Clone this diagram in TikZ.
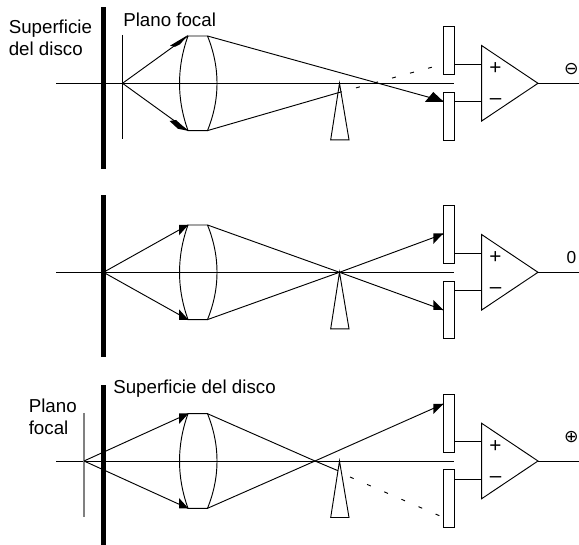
\documentclass[tikz,border=0pt]{standalone}
\usepackage{fontspec}
\setmainfont{Liberation Sans}
\newfontfamily\symfont{DejaVu Sans}
\usetikzlibrary{calc}
\tikzset{
  x=0.75pt, y=-0.75pt,
  ln/.style={line width=0.7pt, black, line join=miter},
  disc/.style={fill=black, draw=none},
  det/.style={draw, line width=0.7pt, rectangle, inner sep=0pt, minimum width=7.9pt},
  lbl/.style={inner sep=0pt, font=\fontsize{14.05pt}{16.5pt}\selectfont, align=left},
  sgn/.style={inner sep=0pt, font=\fontsize{13pt}{15pt}\selectfont},
  opsgn/.style={inner sep=0pt, font=\fontsize{15.5pt}{17pt}\selectfont},
  symsgn/.style={inner sep=0pt, font=\symfont\fontsize{13pt}{15pt}\selectfont},
  head/.style={fill=black, draw=none},
  raydash/.style={ln, dash pattern=on 3pt off 11pt}
}
% #1 prefix, #2 axis y, #3 detector length, #4 output label, #5 extras
\newcommand{\opticalpanel}[5]{%
\begin{scope}[shift={(0,#2)}, name prefix=#1-, ln]
  \coordinate (lensTL) at (188,-47.3);
  \coordinate (lensTR) at (207.5,-47.3);
  \coordinate (lensBL) at (188,47.3);
  \coordinate (lensBR) at (207.5,47.3);
  \coordinate (apex) at (339.5,0);
  \coordinate (baseL) at (330.7,56.5);
  \coordinate (baseR) at (349,56.5);
  \coordinate (ampT) at (481.7,-37.7);
  \coordinate (ampB) at (481.7,37.7);
  \coordinate (ampO) at (538,0);
  \coordinate (ampP) at (481.7,-19.3);
  \coordinate (ampM) at (481.7,18.3);
  \coordinate (axisL) at (56,0);
  \coordinate (axisR) at (453.5,0);
  \coordinate (outE) at (579,0);
  \node[det, minimum height=#3*0.75pt] (up) at (448.7,{-8.9-#3/2}) {};
  \node[det, minimum height=#3*0.75pt] (down) at (448.7,{8.9+#3/2}) {};
  \draw (axisL) -- (axisR);
  \draw (lensTL) -- (lensTR) .. controls (220.2,-15.8) and (220.2,15.8) .. (lensBR) -- (lensBL)
        .. controls (176.7,15.8) and (176.7,-15.8) .. (lensTL);
  \draw (apex) -- (baseR) -- (baseL) -- cycle;
  \draw (ampT) -- (ampO) -- (ampB) -- cycle;
  \draw (ampP) -- (ampP -| up.east);
  \draw (ampM) -- (ampM -| down.east);
  \draw (ampO) -- (outE);
  \node[opsgn] (plus) at (495.5,-14.3) {+};
  \node[opsgn] (minus) at (495.5,18.3) {–};
  #4
  #5
\end{scope}}
\begin{document}
\begin{tikzpicture}
\useasboundingbox (0,0) rectangle (579,545);
% --- top panel
\opticalpanel{a}{83.3}{48}{%
  \node[symsgn] (out) at (571.5,-14.5) {⊖};}{%
  \fill[disc] (101,-76.3) rectangle (106,85.7);
  \coordinate (focus) at (122.5,0);
  \coordinate (fT) at (122.5,-48.3);
  \coordinate (fB) at (122.5,55.7);
  \coordinate (hit) at (443.5,18);
  \coordinate (dashEnd) at (440,-18.3);
  \coordinate (lowKnife) at (338,9.5);
  \draw (fT) -- (fB);
  \draw (focus) -- (lensTL);
  \draw (focus) -- (lensBL);
  \draw (lensTR) -- (hit);
  \draw (lensBR) -- (lowKnife);
  \draw[raydash] (lowKnife) -- (dashEnd);
  \fill[head] (170,-37.6) -- (188,-48.3) -- (180,-39) -- (175,-36.5) -- cycle;
  \fill[head] (169.5,37.7) -- (176,36.7) -- (188,47.5) -- (178,45.5) -- cycle;
  \fill[head] (425,18.5) -- (443.7,18.5) -- (433.3,8.7) -- cycle;
}
% --- middle panel
\opticalpanel{b}{272.3}{57.5}{%
  \node[sgn] (out) at (571.5,-15) {0};}{%
  \fill[disc] (101,-77.3) rectangle (106,84.7);
  \coordinate (focus) at (103.5,0);
  \coordinate (hitU) at (443.3,-38.3);
  \coordinate (hitD) at (443.3,37.7);
  \draw (focus) -- (lensTL);
  \draw (focus) -- (lensBL);
  \draw (lensTR) -- (apex) -- (hitD);
  \draw (lensBR) -- (apex) -- (hitU);
  \fill[head] (179,-47.5) -- (188.5,-47.5) -- (179,-37) -- cycle;
  \fill[head] (179,37) -- (188.5,47.5) -- (179,47.5) -- cycle;
  \fill[head] (433.3,-39) -- (443.3,-39) -- (433.3,-28.3) -- cycle;
  \fill[head] (433.3,27.7) -- (443.3,37.7) -- (433.3,37.7) -- cycle;
}
% --- bottom panel
\opticalpanel{c}{461}{57.7}{%
  \node[symsgn] (out) at (571.5,-23.5) {⊕};}{%
  \fill[disc] (101,-76) rectangle (106,84);
  \coordinate (focus) at (84,0);
  \coordinate (fT) at (84,-48);
  \coordinate (fB) at (84,56);
  \coordinate (cross) at (315,0);
  \coordinate (lowKnife) at (338,9.7);
  \coordinate (dashStart) at (350,16);
  \coordinate (dashEnd) at (443.5,56.5);
  \coordinate (hitU) at (443.3,-57);
  \draw[gray, line width=0.8pt] (fT) -- (fB);
  \draw (focus) -- (lensTL);
  \draw (focus) -- (lensBL);
  \draw (lensTR) -- (cross) -- (lowKnife);
  \draw (lensBR) -- (cross) -- (hitU);
  \draw[raydash] (dashStart) -- (dashEnd);
  \fill[head] (179,-47.5) -- (188.5,-47.5) -- (179,-37) -- cycle;
  \fill[head] (179,37) -- (188.5,47.5) -- (179,47.5) -- cycle;
  \fill[head] (433.3,-57) -- (443.3,-57) -- (433.3,-47) -- cycle;
}
% --- labels
\node[lbl, anchor=west] (t1) at (123,20) {Plano focal};
\node[lbl, anchor=north west] (t2) at (8.5,20) {Superficie\\del disco};
\node[lbl, anchor=west] (t3) at (113,389) {Superficie del disco};
\node[lbl, anchor=north west] (t4) at (28.5,398.5) {Plano\\focal};
\end{tikzpicture}
\end{document}
